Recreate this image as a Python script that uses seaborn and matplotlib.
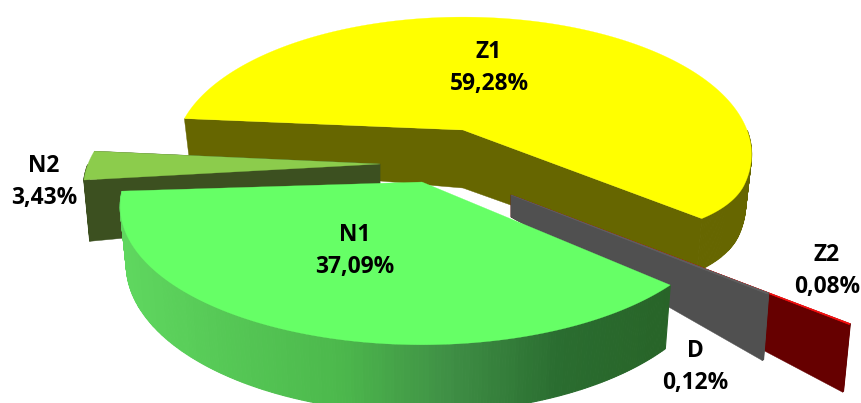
import matplotlib
matplotlib.use('Agg')
import matplotlib.pyplot as plt
import numpy as np
import seaborn as sns

# Data, clockwise from the left edge of Z1
names = ['Z1', 'Z2', 'D', 'N1', 'N2']
shares = [59.28, 0.08, 0.12, 37.09, 3.43]
share_labels = ['59,28%', '0,08%', '0,12%', '37,09%', '3,43%']

START_ANGLE = 179.0
PERSPECTIVE = 0.177

# exploded look of each slice (pixels of the 861x403 canvas)
looks = {
    'Z1': dict(apex=(463, 130), r=284, k=0.468, rot=-4.0, h=47, h_apex=58, top='#ffff00', wall='#666600', taper=0.045),
    'Z2': dict(apex=(511, 195), r=388, k=0.468, rot=-4.6, h=60, h_apex=22, top='#ff1010', wall='#660000', taper=0),
    'D': dict(apex=(511, 195), r=295, k=0.468, rot=-4.4, h=59, h_apex=22, top='#606060', wall='#505050', taper=0),
    'N1': dict(apex=(422, 182), r=297, k=0.451, rot=-7.5, h=56, h_apex=56, top='#66ff66', wall=None, taper=0),
    'N2': dict(apex=(380, 164), r=292, k=0.458, rot=-4.6, h=60, h_apex=50, top='#8ccc4c', wall='#3c5020', taper=0),
}
label_pos = {'Z1': (489, 52), 'Z2': (827, 255), 'D': (695, 351), 'N1': (355, 235), 'N2': (44, 166)}
draw_order = ['Z1', 'Z2', 'D', 'N2', 'N1']

sns.set_theme(style='white')
plt.rcParams['font.family'] = ['Open Sans', 'DejaVu Sans']

n1_wall = sns.blend_palette(['#5fd75f', '#55c755', '#4cb84c', '#3f8f45', '#2a6d30', '#286428'], n_colors=120)


def rim(look, theta):
    # top-face rim point(s), theta in degrees
    t = np.radians(theta)
    s = 1 / (1 + PERSPECTIVE * np.sin(t))
    x = look['apex'][0] + look['r'] * np.cos(t) * s
    y = look['apex'][1] - look['k'] * look['r'] * np.sin(t) * s
    return x, y, s


def drop(look, x, y, s):
    # same point on the underside: lower, and pulled a little towards the apex
    return look['apex'][0] + (x - look['apex'][0]) * 0.98, y + look['h'] * s


def draw_slice(ax, name, a0, a1):
    look = looks[name]
    ax_, ay_ = look['apex']
    n = max(int(abs(a1 - a0)) * 2, 2)
    thetas = np.linspace(a0, a1, n)
    xs, ys, ss = rim(look, thetas)
    if look['taper']:
        # rim pulls in smoothly over the last degrees before the cut
        pull = 1 - look['taper'] * np.clip((a1 + 16 - thetas) / 16, 0, 1) ** 2
        xs = ax_ + (xs - ax_) * pull
        ys = ay_ + (ys - ay_) * pull
    bx, by = drop(look, xs, ys, ss)

    # flat cut faces
    if look['wall'] is not None:
        for i in (0, -1):
            ax.fill([ax_, xs[i], bx[i], ax_], [ay_, ys[i], by[i], ay_ + look['h_apex']],
                    color=look['wall'], lw=0.3)

    # outer wall, only the part that faces the viewer
    front = np.where(np.sin(np.radians(thetas)) < 0)[0]
    for i, j in zip(front[:-1], front[1:]):
        if look['wall'] is None:
            c = n1_wall[int(np.clip((xs[i] - 120) / (668 - 120), 0, 1) * 119)]
        else:
            c = look['wall']
        ax.fill([xs[i], xs[j], bx[j], bx[i]], [ys[i], ys[j], by[j], by[i]], color=c, lw=0.8)

    ax.fill(np.r_[ax_, xs], np.r_[ay_, ys], color=look['top'], lw=0.4 if name in ('Z2', 'D') else 0.2)


fig = plt.figure(figsize=(8.61, 4.03), dpi=100)
ax = fig.add_axes([0, 0, 1, 1])
ax.set_xlim(0, 861)
ax.set_ylim(403, 0)
ax.axis('off')

sweeps = 360 * np.array(shares) / sum(shares)
ends = START_ANGLE - np.cumsum(sweeps)
starts = ends + sweeps
span = {nm: (s + looks[nm]['rot'], e + looks[nm]['rot']) for nm, s, e in zip(names, starts, ends)}

for nm in draw_order:
    draw_slice(ax, nm, *span[nm])

for nm, lab in zip(names, share_labels):
    x, y = label_pos[nm]
    ax.text(x, y, nm, ha='center', va='center', fontsize=16.4, fontweight='bold', color='black')
    ax.text(x, y + 32, lab, ha='center', va='center', fontsize=16.4, fontweight='bold', color='black')

fig.savefig('out.png', dpi=100)
